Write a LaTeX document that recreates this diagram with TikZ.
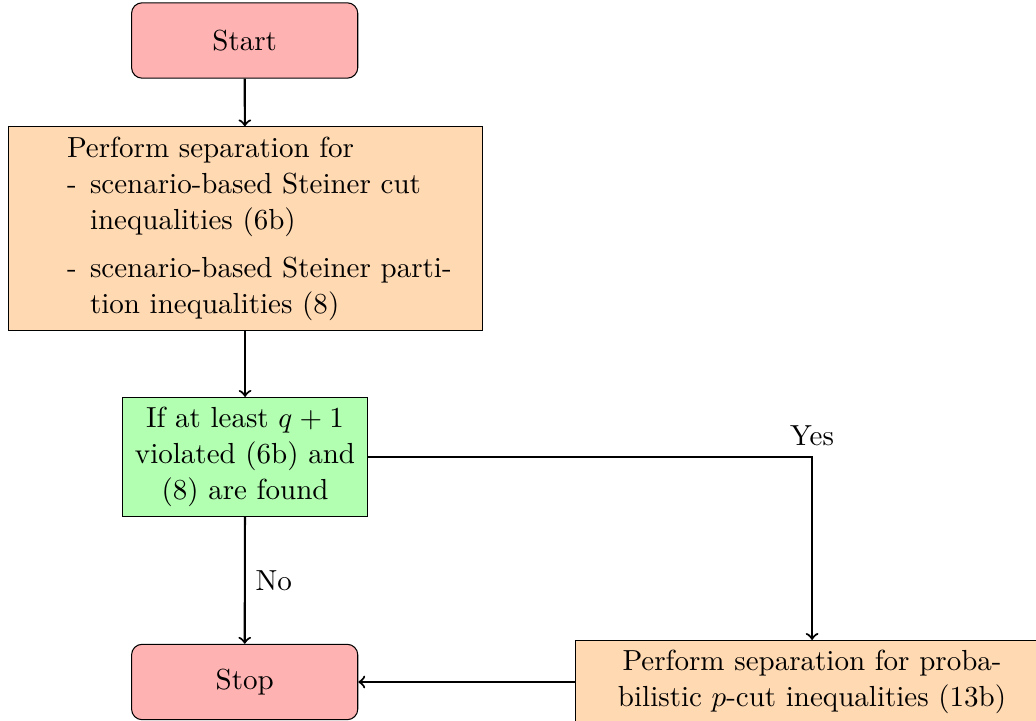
\documentclass[tikz,border=0pt,11pt]{standalone}
\usepackage{tikz}
\usetikzlibrary{arrows}
\newcommand\lead{\hspace*{0.654cm}}
\newcommand\dashitem{\makebox[0.305cm][l]{-}}
\newcommand\dashgap{\hspace*{0.305cm}}

\tikzset{
	startstop/.style={rectangle, rounded corners, minimum width=3cm, minimum height=1cm, text centered, draw=black, fill=red!30},
	process/.style={rectangle, minimum height=1cm, draw=black, fill=orange!30},
	decision/.style={rectangle, text width=3cm, align=center, draw=black, fill=green!30},
	flowarrow/.style={thick, ->}
}

\begin{document}
\begin{tikzpicture}
				\useasboundingbox (0, 0) rectangle (13.74, -9.56);
				
				\node[startstop] (start) at (3.245, -0.537) {Start};
				\node[process, text width=6.03cm, align=left] (perf) at (3.25, -3.03) {\lead Perform separation for\\
					\lead\dashitem scenario-based Steiner cut\\
					\lead\dashgap inequalities (6b)\\[4.5pt]
					\lead\dashitem scenario-based Steiner parti-\\
					\lead\dashgap tion inequalities (8)};
				\node[decision] (check) at (3.25, -6.061) {If at least $q+1$ violated (6b) and (8) are found};
				\node[startstop] (stop) at (3.245, -9.045) {Stop};
				\node[process, text width=6.03cm, align=center] (prob) at (10.77, -9.045) {Perform separation for proba-\\bilistic $p$-cut inequalities (13b)};
				
				\coordinate (turn) at (prob.north |- check.east);
				
				\draw[flowarrow] (start) -- (perf);
				\draw[flowarrow] (perf) -- (check);
				\draw[flowarrow] (check) -- node[right] {No} (stop);
				\draw[flowarrow] (check.east) -- (turn) node[above] {Yes} -- (prob.north);
				\draw[flowarrow] (prob) -- (stop);
			\end{tikzpicture}
\end{document}
